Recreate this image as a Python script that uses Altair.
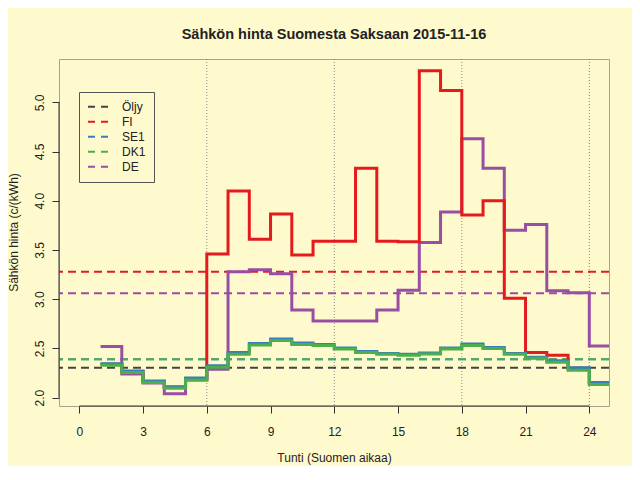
import altair as alt
import pandas as pd

hours = list(range(1, 25))
fi = [2.34, 2.265, 2.165, 2.105, 2.19, 3.46, 4.10, 3.61, 3.865, 3.45, 3.59, 3.59,
      4.33, 3.59, 3.585, 5.32, 5.12, 3.855, 4.00, 3.01, 2.46, 2.43, 2.30, 2.15]
se1 = [2.345, 2.27, 2.17, 2.11, 2.20, 2.325, 2.46, 2.55, 2.595, 2.555, 2.54, 2.505,
       2.47, 2.45, 2.44, 2.455, 2.505, 2.545, 2.51, 2.45, 2.41, 2.375, 2.305, 2.155]
dk1 = [2.33, 2.255, 2.155, 2.095, 2.18, 2.31, 2.44, 2.535, 2.58, 2.54, 2.53, 2.495,
       2.46, 2.44, 2.43, 2.445, 2.495, 2.53, 2.50, 2.44, 2.40, 2.36, 2.28, 2.135]
de = [2.52, 2.24, 2.15, 2.04, 2.18, 2.29, 3.28, 3.30, 3.26, 2.89, 2.78, 2.78,
      2.78, 2.89, 3.09, 3.575, 3.885, 4.63, 4.33, 3.70, 3.76, 3.085, 3.065, 2.525]

series_names = ["Öljy", "FI", "SE1", "DK1", "DE"]
series_colors = ["#444444", "#E41A1C", "#377EB8", "#4DAF4A", "#984EA3"]
mean_values = [2.305, 3.28, 2.39, 2.39, 3.06]

x_ticks = [0, 3, 6, 9, 12, 15, 18, 21, 24]
y_ticks = [2.0, 2.5, 3.0, 3.5, 4.0, 4.5, 5.0]
vgrid = [6, 12, 18, 24]

XDOM = [-0.955, 24.927]
YDOM = [1.9157, 5.4397]
BG = "#FFFACD"

series_data = {"FI": fi, "SE1": se1, "DK1": dk1, "DE": de}
rows = []
for name, vals in series_data.items():
    for h, v in zip(hours, vals):
        rows.append({"hour": h, "price": v, "series": name})
    rows.append({"hour": hours[-1] + 1, "price": vals[-1], "series": name})
df = pd.DataFrame(rows)

means = pd.DataFrame({"series": series_names, "mean": mean_values})

xs = alt.Scale(domain=XDOM, nice=False, zero=False)
ys = alt.Scale(domain=YDOM, nice=False, zero=False)
cs = alt.Scale(domain=series_names, range=series_colors)

xaxis = alt.Axis(values=x_ticks, format="d", title="Tunti (Suomen aikaa)", grid=False,
                 domain=False, tickSize=7, tickColor="#333", labelFontSize=12,
                 labelColor="#222", labelBaseline="alphabetic", labelPadding=22,
                 titleFontSize=12, titleFontWeight="normal", titleColor="#222",
                 titleBaseline="alphabetic", titleY=55)
yaxis = alt.Axis(values=y_ticks, format=".1f", title="Sähkön hinta (c/(kWh)", grid=False,
                 domain=False, tickSize=7, tickColor="#333", labelFontSize=12,
                 labelColor="#222", labelAngle=270, labelAlign="center",
                 labelBaseline="alphabetic", labelPadding=9,
                 titleFontSize=12, titleFontWeight="normal", titleColor="#222",
                 titleAngle=270, titleBaseline="alphabetic", titleX=-42, titleY=173)

vdf = pd.DataFrame({"x": vgrid})
vlines = alt.Chart(vdf).mark_rule(color="#888888", strokeDash=[1, 2], strokeWidth=1).encode(
    x=alt.X("x:Q", scale=xs, axis=xaxis),
)

mean_rules = alt.Chart(means).mark_rule(strokeDash=[8, 5], strokeWidth=2).encode(
    y=alt.Y("mean:Q", scale=ys, axis=yaxis),
    color=alt.Color("series:N", scale=cs, title=None, sort=series_names),
)

layers = [vlines, mean_rules]
for name in ["DE", "FI", "SE1", "DK1"]:
    layers.append(
        alt.Chart(df).transform_filter(alt.datum.series == name)
        .mark_line(interpolate="step-after", strokeWidth=3, clip=True)
        .encode(
            x=alt.X("hour:Q", scale=xs),
            y=alt.Y("price:Q", scale=ys),
            color=alt.Color("series:N", scale=cs, title=None, sort=series_names),
        )
    )

xline = alt.Chart(pd.DataFrame({"a": [x_ticks[0]], "b": [x_ticks[-1]], "y": [YDOM[0]]})).mark_rule(
    color="#333", strokeWidth=1).encode(x=alt.X("a:Q", scale=xs), x2="b:Q", y=alt.Y("y:Q", scale=ys))
yline = alt.Chart(pd.DataFrame({"a": [y_ticks[0]], "b": [y_ticks[-1]], "x": [XDOM[0]]})).mark_rule(
    color="#333", strokeWidth=1).encode(y=alt.Y("a:Q", scale=ys), y2="b:Q", x=alt.X("x:Q", scale=xs))
layers += [xline, yline]

chart = alt.layer(*layers).properties(
    width=550, height=347,
    title=alt.Title("Sähkön hinta Suomesta Saksaan 2015-11-16", fontSize=14.5, fontWeight="bold",
                    color="#222", anchor="middle", frame="group", offset=16),
    background=BG,
    padding={"left": 51, "top": 51, "right": 23, "bottom": 60},
    autosize=alt.AutoSizeParams(type="none"),
).configure(font="Liberation Sans").configure_view(
    stroke="#A8A38C", strokeWidth=1
).configure_legend(
    orient="none", legendX=20, legendY=33, padding=8, strokeColor="#555",
    fillColor=BG, symbolType="stroke", symbolSize=400, symbolStrokeWidth=2,
    symbolDash=[7, 6], labelFontSize=12, labelColor="#222", labelOffset=13,
    rowPadding=1, clipHeight=13.5, cornerRadius=0,
)

chart.save("out.html", embed_options={"renderer": "svg", "actions": False})
